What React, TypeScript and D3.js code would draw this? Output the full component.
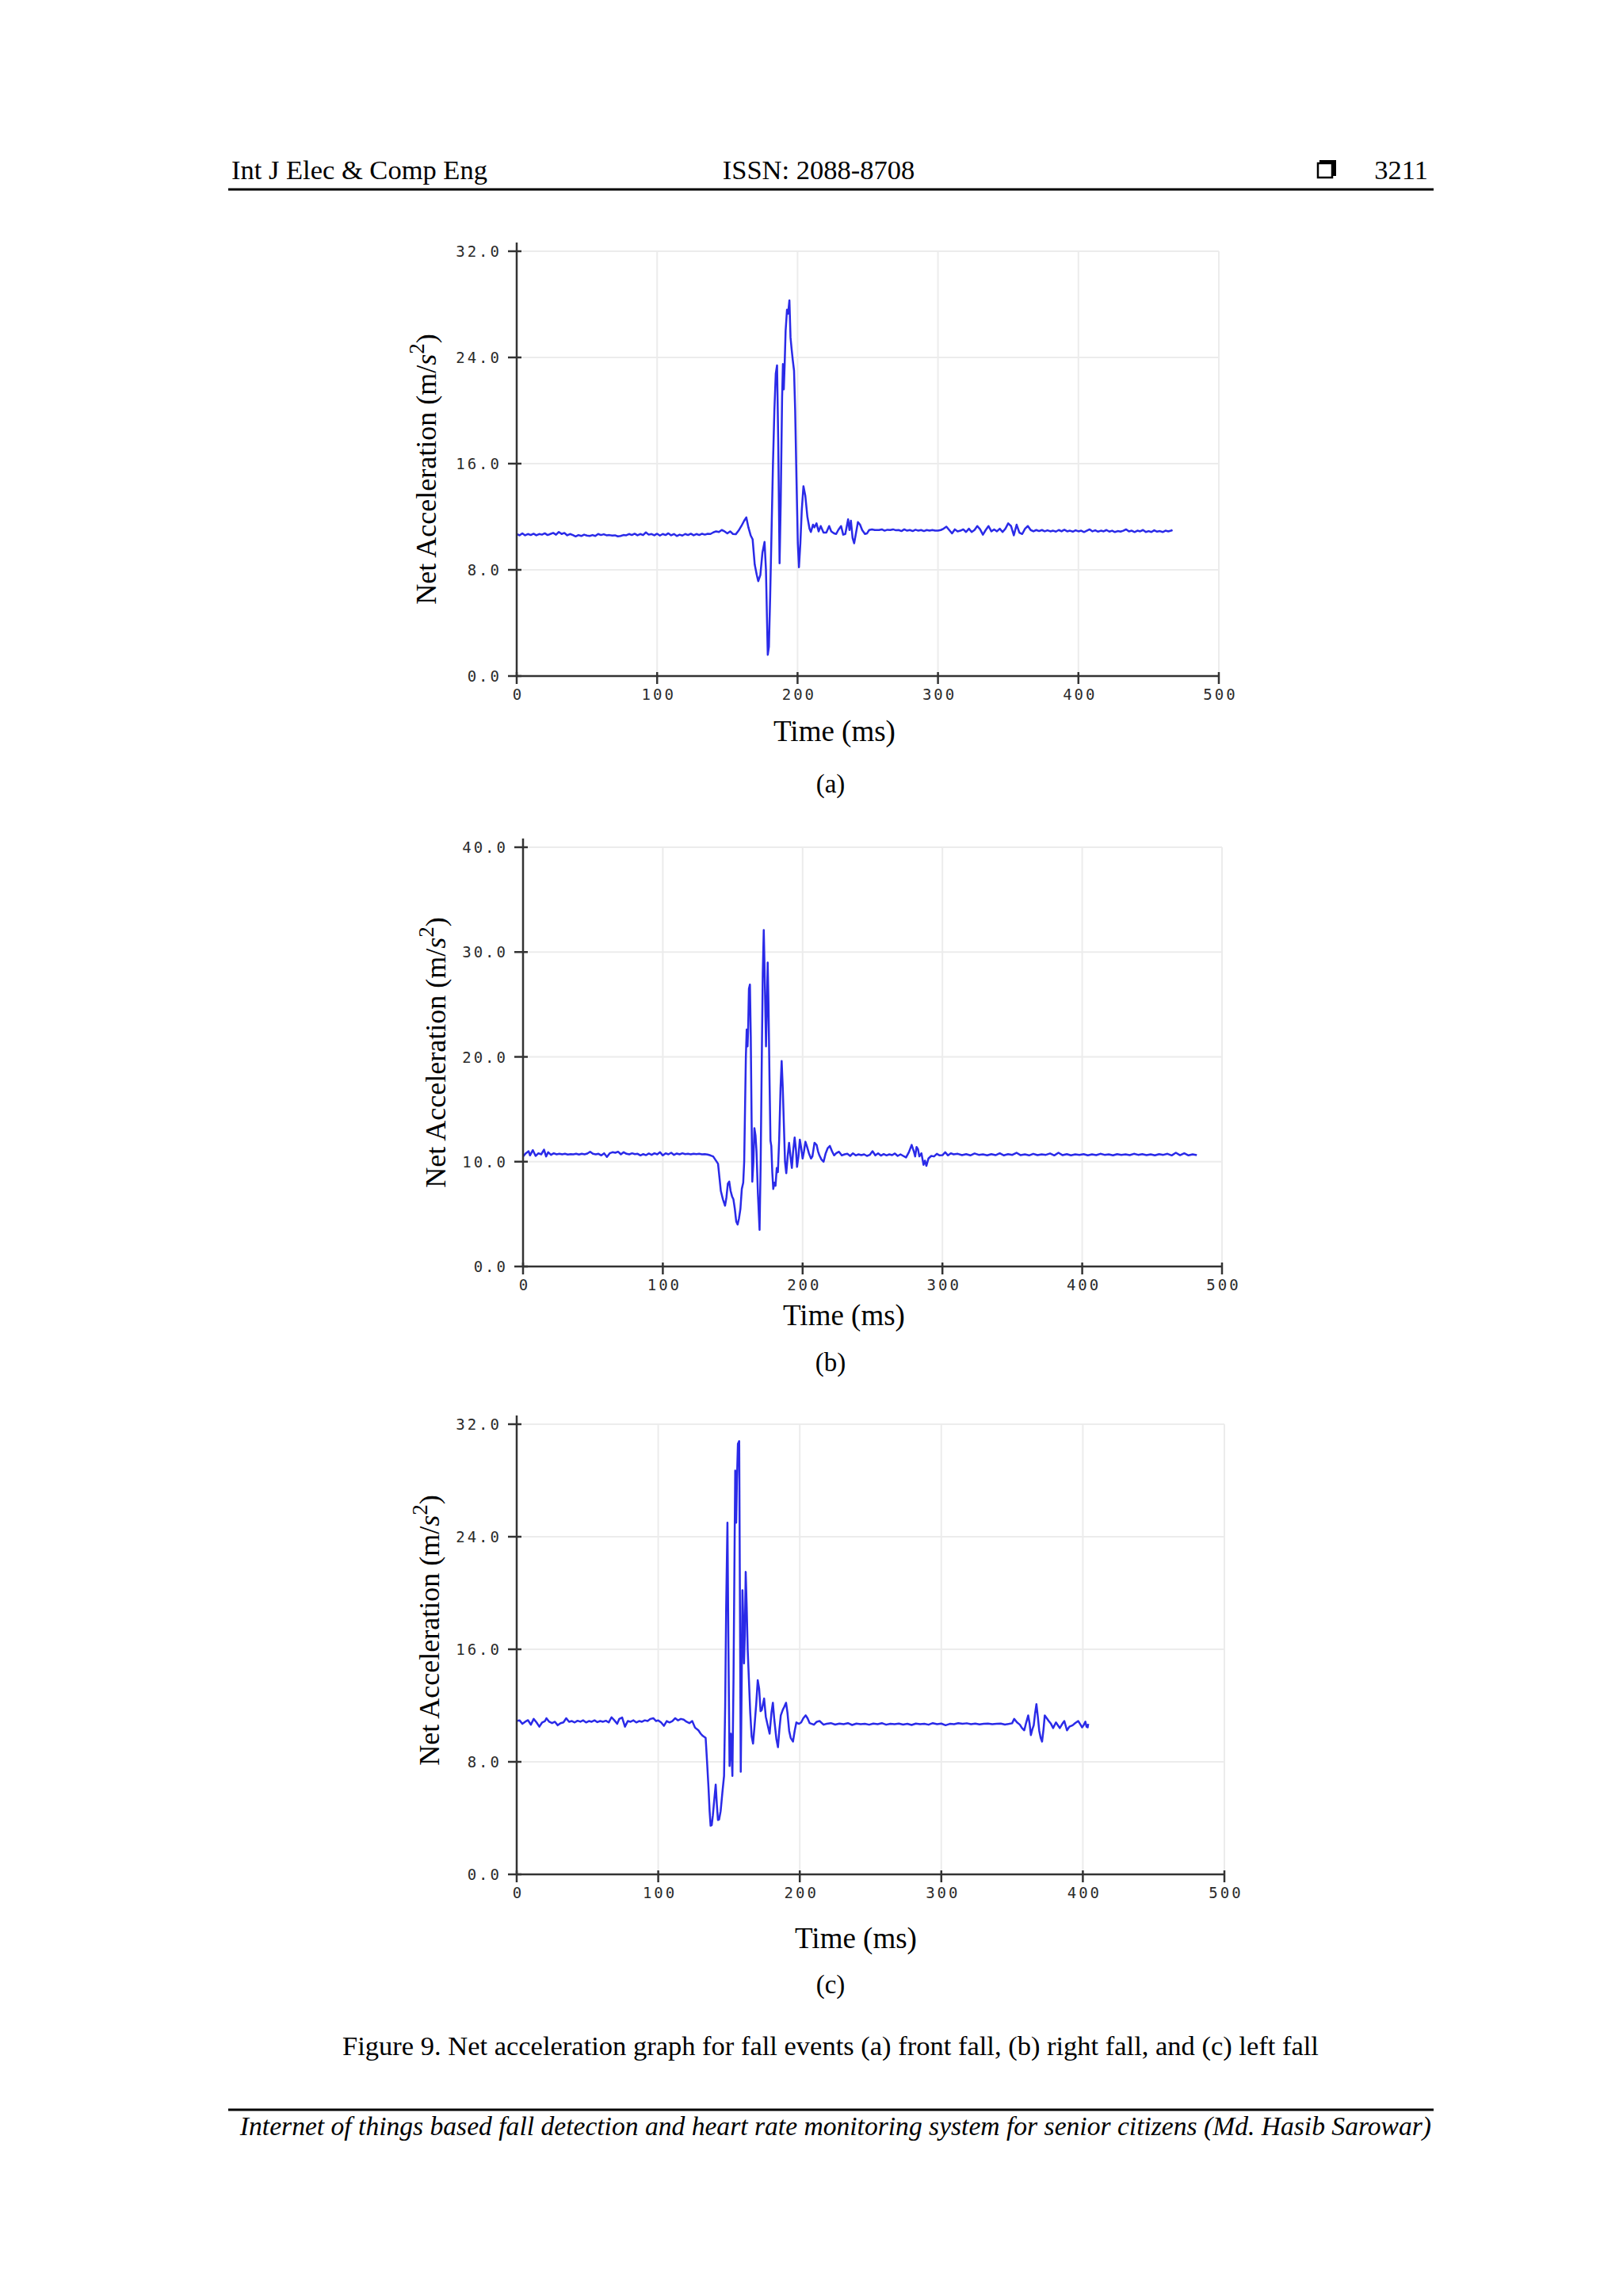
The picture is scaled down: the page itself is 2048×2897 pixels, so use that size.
import { useEffect, useRef } from "react";
import * as d3 from "d3";

// front fall (a): [time ms, net acceleration m/s^2]
const frontFall: [number, number][] = [
  [0, 10.7], [2, 10.6], [4, 10.75], [6, 10.6], [8, 10.7], [10, 10.62], [12, 10.72], [14, 10.6], [16, 10.7], [18, 10.65],
  [20, 10.75], [22, 10.62], [24, 10.7], [26, 10.78], [28, 10.65], [30, 10.85], [32, 10.7], [34, 10.78], [36, 10.6], [38, 10.7],
  [40, 10.62], [42, 10.52], [44, 10.62], [46, 10.55], [48, 10.65], [50, 10.58], [52, 10.55], [54, 10.62], [56, 10.55], [58, 10.7],
  [60, 10.62], [62, 10.68], [64, 10.6], [66, 10.62], [68, 10.58], [70, 10.6], [72, 10.52], [74, 10.55], [76, 10.62], [78, 10.6],
  [80, 10.7], [82, 10.62], [84, 10.72], [86, 10.6], [88, 10.7], [90, 10.62], [92, 10.82], [94, 10.65], [96, 10.7], [98, 10.6],
  [100, 10.72], [102, 10.58], [104, 10.7], [106, 10.62], [108, 10.75], [110, 10.6], [112, 10.7], [114, 10.55], [116, 10.65], [118, 10.58],
  [120, 10.7], [122, 10.62], [124, 10.72], [126, 10.6], [128, 10.7], [130, 10.62], [132, 10.72], [134, 10.65], [136, 10.72], [138, 10.7],
  [140, 10.82], [142, 10.9], [144, 10.85], [146, 11.0], [148, 10.9], [150, 10.75], [152, 10.9], [154, 10.7], [156, 10.68], [158, 10.95],
  [160, 11.3], [162, 11.7], [163.5, 11.95], [165, 11.2], [166.6, 10.6], [168, 10.3], [169.5, 8.4], [171, 7.6], [172, 7.15], [173.5, 7.6],
  [175, 9.3], [176.5, 10.1], [177.5, 8.0], [178.3, 4.0], [178.8, 1.6], [179.6, 2.2], [180.5, 6], [181.5, 11], [182.5, 16], [183.5, 20],
  [184.5, 22.8], [185.4, 23.4], [186.2, 18], [187.2, 8.5], [188, 13], [189, 21], [189.6, 23.5], [190.2, 21.6], [190.8, 23.4], [191.5, 26],
  [192.5, 27.6], [193.3, 27.3], [194.2, 28.3], [195, 25.5], [195.8, 24.6], [196.6, 23.8], [197.5, 23.0], [198.3, 20], [199.2, 15], [200.2, 10],
  [201, 8.2], [202, 10], [203, 12.5], [204.2, 14.3], [205.5, 13.6], [207, 12], [208.5, 11.1], [209.5, 10.85], [211, 11.4], [212, 11.2],
  [213.5, 11.5], [215, 10.9], [216.5, 11.3], [218.5, 10.8], [220.5, 10.8], [222.5, 11.3], [224, 10.9], [226, 10.75], [227.5, 10.7], [229, 11.0],
  [231, 11.3], [232.5, 10.65], [234, 10.7], [236, 11.8], [237, 11.0], [238, 11.7], [239.2, 10.4], [240.3, 10.0], [241.5, 10.7], [243, 11.6],
  [244.5, 11.4], [246, 11.0], [248, 10.7], [249.5, 10.75], [251, 11.0], [253, 11.05], [255, 11.0], [258, 11.0], [260, 11.05], [262, 10.95],
  [264, 11.02], [266, 11.0], [268, 11.05], [270, 10.98], [272, 11.0], [274, 10.92], [276, 11.05], [278, 10.95], [280, 11.0], [282, 10.92],
  [284, 11.02], [286, 10.95], [288, 11.0], [290, 10.92], [292, 11.0], [294, 10.95], [296, 11.0], [298, 10.95], [300, 10.95], [302, 11.0],
  [304, 11.1], [306, 11.25], [308, 11.0], [310, 10.75], [312, 11.05], [314, 10.9], [316, 10.95], [318, 11.05], [320, 10.85], [322, 11.1],
  [324, 10.85], [326, 11.0], [328, 11.3], [330, 11.05], [332, 10.65], [334, 11.0], [336, 11.3], [338, 10.9], [340, 11.05], [342, 10.9],
  [344, 11.1], [346, 10.85], [348, 11.1], [350, 11.5], [352, 11.3], [354, 10.6], [356, 11.4], [358, 10.8], [360, 10.7], [362, 11.1],
  [364, 11.3], [366, 11.0], [368, 10.9], [370, 11.0], [372, 10.92], [374, 11.0], [376, 10.9], [378, 10.98], [380, 10.9], [382, 10.95],
  [384, 10.88], [386, 11.0], [388, 10.9], [390, 11.02], [392, 10.9], [394, 10.95], [396, 10.88], [398, 10.98], [400, 10.9], [402, 10.95],
  [404, 10.85], [406, 10.95], [408, 11.05], [410, 10.9], [412, 10.98], [414, 10.88], [416, 10.95], [418, 10.9], [420, 11.0], [422, 10.88],
  [424, 10.95], [426, 10.85], [428, 10.92], [430, 10.88], [432, 10.95], [434, 11.05], [436, 10.9], [438, 10.95], [440, 10.85], [442, 10.95],
  [444, 10.9], [446, 11.0], [448, 10.85], [450, 10.92], [452, 10.85], [454, 10.98], [456, 10.88], [458, 10.92], [460, 10.85], [462, 10.95],
  [464, 10.9], [466, 10.95], [467, 11.0],
];

// right fall (b)
const rightFall: [number, number][] = [
  [0, 10.5], [2, 10.8], [4, 11.0], [5, 10.6], [7, 11.1], [9, 10.55], [11, 10.8], [13, 10.7], [15, 11.15], [16.5, 10.5],
  [18, 10.9], [20, 10.65], [22, 10.8], [24, 10.7], [26, 10.75], [28, 10.7], [30, 10.75], [32, 10.68], [34, 10.72], [36, 10.7],
  [38, 10.75], [40, 10.68], [42, 10.75], [44, 10.7], [46, 10.78], [48, 10.95], [50, 10.75], [52, 10.7], [54, 10.75], [56, 10.6],
  [58, 10.8], [60, 10.45], [62, 10.8], [64, 10.9], [66, 10.85], [68, 10.95], [70, 10.7], [72, 10.9], [74, 10.75], [76, 10.7],
  [78, 10.8], [80, 10.72], [82, 10.75], [84, 10.6], [86, 10.72], [88, 10.62], [90, 10.78], [92, 10.65], [94, 10.8], [96, 10.7],
  [98, 10.9], [100, 10.6], [102, 10.8], [104, 10.7], [106, 10.85], [108, 10.65], [110, 10.78], [112, 10.7], [114, 10.8], [116, 10.72],
  [118, 10.75], [120, 10.7], [122, 10.75], [124, 10.72], [126, 10.75], [128, 10.7], [130, 10.72], [132, 10.68], [134, 10.6], [136, 10.5],
  [138, 10.1], [139.5, 9.8], [140.5, 8.5], [141.5, 7.2], [143, 6.4], [144.5, 5.8], [145.5, 6.6], [146.5, 7.9], [147.5, 8.1], [148.5, 7.2],
  [149.5, 6.7], [150.5, 6.4], [151.5, 5.5], [152.5, 4.3], [153.5, 4.0], [154.5, 4.6], [155.5, 5.5], [156.5, 7.4], [157.5, 8.0], [158.2, 10],
  [158.8, 15], [159.4, 20], [160, 22.6], [160.6, 21], [161, 22.5], [161.6, 26.5], [162.3, 26.9], [162.9, 22], [163.5, 14], [164, 8.1],
  [164.8, 10], [165.5, 13.2], [166.3, 12.5], [167, 11], [168, 7], [169.2, 3.5], [170, 10], [170.8, 20], [171.5, 28], [172.2, 32.1],
  [173, 27], [173.8, 21], [174.4, 24.5], [175, 29.0], [175.6, 25], [176.3, 18], [177, 12], [177.6, 11.5], [178.3, 9], [179, 7.4],
  [179.8, 8.0], [180.6, 7.7], [181.5, 9.4], [182.3, 9.0], [183.2, 12], [184.2, 17], [185, 19.6], [185.8, 17], [186.6, 13.5], [187.4, 10],
  [188.3, 8.9], [189.3, 10.5], [190.3, 11.8], [191.3, 10.5], [192.3, 9.4], [193.2, 11], [194.3, 12.3], [195.2, 11.2], [196, 9.5], [197, 10.5],
  [198, 12.1], [199, 11.3], [200, 10.3], [201, 11.0], [202, 11.9], [203, 11.5], [204.5, 10.8], [206, 10.3], [207, 10.5], [208.5, 11.8],
  [210, 11.6], [211, 11.0], [212, 10.6], [213.5, 10.2], [215, 10.0], [216.5, 10.8], [218, 11.3], [219.5, 11.5], [221, 11.0], [222.5, 10.6],
  [224, 10.8], [226, 10.95], [228, 10.6], [230, 10.7], [232, 10.75], [234, 10.55], [236, 10.8], [238, 10.6], [240, 10.7], [242, 10.62],
  [244, 10.7], [246, 10.55], [248, 10.65], [250, 11.0], [252, 10.6], [254, 10.8], [256, 10.58], [258, 10.72], [260, 10.6], [262, 10.7],
  [264, 10.62], [266, 10.78], [268, 10.55], [270, 10.7], [272, 10.55], [274, 10.4], [276, 10.9], [278, 11.6], [279.5, 11.0], [280.5, 10.5],
  [281.5, 11.4], [282.5, 11.2], [283.5, 10.5], [285, 10.8], [286.5, 9.7], [287.5, 10.1], [288.5, 9.6], [290, 10.3], [292, 10.55], [294, 10.5],
  [296, 10.75], [298, 10.6], [300, 10.62], [302, 10.9], [304, 10.6], [306, 10.8], [308, 10.7], [311, 10.75], [314, 10.62], [317, 10.72],
  [320, 10.6], [323, 10.78], [326, 10.65], [329, 10.7], [332, 10.6], [335, 10.72], [338, 10.62], [341, 10.8], [344, 10.6], [347, 10.72],
  [350, 10.65], [353, 10.85], [356, 10.62], [359, 10.7], [362, 10.6], [365, 10.75], [368, 10.62], [371, 10.7], [374, 10.65], [377, 10.78],
  [380, 10.6], [383, 10.85], [386, 10.62], [389, 10.72], [392, 10.6], [395, 10.7], [398, 10.65], [401, 10.72], [404, 10.6], [407, 10.7],
  [410, 10.62], [413, 10.75], [416, 10.65], [419, 10.7], [422, 10.6], [425, 10.72], [428, 10.65], [431, 10.7], [434, 10.62], [437, 10.75],
  [440, 10.65], [443, 10.72], [446, 10.62], [449, 10.7], [452, 10.6], [455, 10.72], [458, 10.65], [461, 10.75], [464, 10.6], [467, 10.85],
  [470, 10.62], [473, 10.8], [476, 10.6], [479, 10.7], [482, 10.62],
];

// left fall (c)
const leftFall: [number, number][] = [
  [0, 10.9], [2, 10.95], [4, 10.7], [6, 10.85], [8, 10.96], [10, 10.64], [12, 11.05], [14, 10.8], [16, 10.5], [18, 10.8],
  [20, 10.9], [21, 11.1], [23, 10.85], [25, 10.75], [27, 10.85], [29, 10.6], [31, 10.75], [33, 10.8], [35, 11.1], [37, 10.85],
  [39, 10.9], [41, 10.8], [43, 10.92], [45, 10.85], [47, 10.95], [49, 10.8], [51, 10.9], [53, 10.85], [55, 10.95], [57, 10.82],
  [59, 10.9], [61, 10.85], [63, 10.92], [65, 10.8], [67, 11.17], [69, 10.95], [71, 10.7], [72.5, 11.05], [74.5, 11.15], [76.5, 10.5],
  [78.5, 10.9], [80.5, 10.85], [82.5, 10.95], [84.5, 10.8], [86.5, 10.9], [88.5, 10.85], [90.5, 10.95], [92.5, 10.9], [94.5, 11.05], [96.5, 11.1],
  [98.5, 10.9], [100, 10.95], [102, 10.8], [104, 10.56], [106, 10.9], [108, 10.8], [110, 10.9], [112, 11.1], [114, 10.95], [116, 11.05],
  [118, 11.0], [120, 10.85], [122, 10.75], [124, 10.9], [126, 10.43], [128.4, 10.24], [130, 10.0], [131.5, 9.84], [133.5, 9.7], [134.5, 8],
  [135.5, 6.2], [136.3, 4.5], [137, 3.46], [137.8, 3.5], [138.6, 4.2], [139.5, 5.2], [140.6, 6.38], [141.4, 5], [142.2, 3.86], [143, 3.9],
  [144.1, 4.5], [145.3, 5.8], [146.5, 7.0], [147.3, 12], [148, 19], [148.9, 25.0], [149.6, 16], [150.4, 7.7], [151.3, 10], [152.4, 7.0],
  [153.2, 14], [154, 24], [154.4, 28.7], [155.1, 25], [155.6, 28], [156.3, 30.6], [157.2, 30.8], [157.7, 20], [158.3, 7.3], [159, 14],
  [159.5, 20.2], [160.1, 18], [160.6, 15], [161.2, 17], [161.8, 21.5], [162.5, 19], [163.2, 16], [164, 14], [165, 11.5], [166, 9.8],
  [167, 9.3], [168, 10.5], [169.3, 12.2], [170.3, 13.8], [171.3, 13.2], [172.3, 11.6], [173.2, 11.7], [174.8, 12.5], [176, 11.2], [177.1, 10.7],
  [178.7, 10.0], [180, 11.5], [181, 12.2], [182, 11.0], [183.5, 9.6], [184.6, 9.04], [185.6, 10.3], [186.6, 11.3], [188, 11.7], [189, 11.9],
  [190.3, 12.2], [191.3, 11.5], [192.5, 10.2], [193.6, 9.7], [195.2, 9.44], [196.4, 10.2], [197.6, 10.8], [199.5, 10.7], [201, 10.8], [202.5, 11.1],
  [204.2, 11.3], [205.5, 11.1], [207, 10.75], [208.5, 10.7], [210, 10.64], [212, 10.85], [214, 10.9], [216.8, 10.64], [219, 10.7], [222, 10.75],
  [225, 10.65], [228, 10.72], [231, 10.68], [234, 10.75], [237, 10.62], [240, 10.72], [243, 10.68], [246, 10.7], [249, 10.64], [252, 10.72],
  [255, 10.68], [258, 10.75], [261, 10.64], [264, 10.7], [267, 10.68], [270, 10.72], [273, 10.65], [276, 10.7], [279, 10.62], [282, 10.72],
  [285, 10.68], [288, 10.7], [291, 10.64], [294, 10.75], [297, 10.68], [300, 10.72], [303, 10.6], [306, 10.7], [309, 10.68], [312, 10.75],
  [315, 10.7], [318, 10.74], [321, 10.68], [324, 10.72], [327, 10.66], [330, 10.7], [333, 10.72], [336, 10.68], [339, 10.7], [342, 10.72],
  [345, 10.65], [348, 10.7], [350, 10.74], [351.5, 11.05], [353.5, 10.8], [355.5, 10.64], [357, 10.4], [358.6, 10.24], [360, 10.8], [361.4, 11.3],
  [362.4, 10.7], [363.3, 9.9], [364.3, 10.3], [365.3, 10.6], [366.2, 11.4], [367.2, 12.1], [368.2, 11.2], [369.2, 10.2], [370.2, 9.7], [371.2, 9.44],
  [372.2, 10.3], [373.1, 11.3], [374.5, 11.1], [375.9, 10.9], [377.5, 10.7], [379, 10.4], [381, 10.8], [383.7, 10.4], [385.5, 10.7], [386.9, 10.9],
  [388.8, 10.24], [390.5, 10.5], [392.8, 10.6], [394.5, 10.75], [396.7, 10.9], [398, 10.7], [399.5, 10.45], [400.5, 10.6], [401.8, 10.85], [402.6, 10.5],
  [403.4, 10.45], [403.8, 10.7],
];

const xTicks = [0, 100, 200, 300, 400, 500];
const yTicksA = [0, 8, 16, 24, 32];
const yTicksB = [0, 10, 20, 30, 40];
const yTicksC = [0, 8, 16, 24, 32];

const panelLabels = ["(a)", "(b)", "(c)"];
const headerLeft = "Int J Elec & Comp Eng";
const headerMid = "ISSN: 2088-8708";
const pageNumber = "3211";
const caption =
  "Figure 9. Net acceleration graph for fall events (a) front fall, (b) right fall, and (c) left fall";
const footer =
  "Internet of things based fall detection and heart rate monitoring system for senior citizens (Md. Hasib Sarowar)";

const W = 2048;
const H = 2897;
const SERIF = "'Liberation Serif', 'Times New Roman', serif";
const MONO = "'DejaVu Sans Mono', 'Liberation Mono', monospace";

// placement of each panel on the page
const panels = [
  { data: frontFall, yTicks: yTicksA, x0: 652, x1: 1538, y0: 853, y1: 317, ylab: [550, 592], tlab: [1053, 935], plab: [1048, 1000] },
  { data: rightFall, yTicks: yTicksB, x0: 660, x1: 1542, y0: 1598, y1: 1069, ylab: [562, 1328], tlab: [1065, 1672], plab: [1048, 1730] },
  { data: leftFall, yTicks: yTicksC, x0: 652, x1: 1545, y0: 2365, y1: 1797, ylab: [554, 2057], tlab: [1080, 2458], plab: [1048, 2515] },
];

export default function App() {
  const svgRef = useRef<SVGSVGElement>(null);

  useEffect(() => {
    if (!svgRef.current) return;
    const svg = d3.select(svgRef.current);
    svg.selectAll("*").remove();

    svg.append("rect").attr("width", W).attr("height", H).attr("fill", "#fff");

    // page header
    const head = svg.append("g").attr("font-family", SERIF).attr("font-size", 34.5).attr("fill", "#000");
    head.append("text").attr("x", 292).attr("y", 226).text(headerLeft);
    head.append("text").attr("x", 1033).attr("y", 226).attr("text-anchor", "middle").text(headerMid);
    head.append("text").attr("x", 1802).attr("y", 226).attr("text-anchor", "end").text(pageNumber);
    head.append("rect").attr("x", 1663).attr("y", 206).attr("width", 18).attr("height", 18)
      .attr("fill", "none").attr("stroke", "#000").attr("stroke-width", 2.5);
    head.append("path").attr("d", "M1665,204 H1684 V222").attr("fill", "none").attr("stroke", "#000").attr("stroke-width", 4);
    svg.append("line").attr("x1", 288).attr("x2", 1809).attr("y1", 239).attr("y2", 239)
      .attr("stroke", "#000").attr("stroke-width", 3);

    panels.forEach((p, i) => {
      const x = d3.scaleLinear().domain([0, 500]).range([p.x0, p.x1]);
      const yMax = p.yTicks[p.yTicks.length - 1];
      const y = d3.scaleLinear().domain([0, yMax]).range([p.y0, p.y1]);
      const g = svg.append("g");

      // grid
      g.selectAll(".hg").data(p.yTicks.slice(1)).join("line")
        .attr("x1", p.x0).attr("x2", p.x1).attr("y1", (d) => y(d)).attr("y2", (d) => y(d))
        .attr("stroke", "#ececec").attr("stroke-width", 2);
      g.selectAll(".vg").data(xTicks.slice(1)).join("line")
        .attr("x1", (d) => x(d)).attr("x2", (d) => x(d)).attr("y1", p.y0).attr("y2", y(yMax))
        .attr("stroke", "#ececec").attr("stroke-width", 2);

      // series
      const line = d3.line<[number, number]>().x((d) => x(d[0])).y((d) => y(d[1]));
      g.append("path").datum(p.data).attr("d", line).attr("fill", "none")
        .attr("stroke", "#2a2ae8").attr("stroke-width", 2.5).attr("stroke-linejoin", "round");

      // axes
      const ax = g.append("g").attr("stroke", "#333").attr("stroke-width", 2.5);
      ax.append("line").attr("x1", p.x0).attr("x2", p.x0).attr("y1", p.y0).attr("y2", y(yMax) - 11);
      ax.append("line").attr("x1", p.x0).attr("x2", p.x1).attr("y1", p.y0).attr("y2", p.y0);
      ax.selectAll(".yt").data(p.yTicks).join("line")
        .attr("x1", p.x0 - 11).attr("x2", p.x0 + 6).attr("y1", (d) => y(d)).attr("y2", (d) => y(d));
      ax.selectAll(".xt").data(xTicks).join("line")
        .attr("x1", (d) => x(d)).attr("x2", (d) => x(d)).attr("y1", p.y0 - 5).attr("y2", p.y0 + 10);

      const lab = g.append("g").attr("font-family", MONO).attr("font-size", 19)
        .attr("fill", "#2b2b2b").attr("letter-spacing", 3);
      lab.selectAll(".yl").data(p.yTicks).join("text")
        .attr("x", p.x0 - 19).attr("y", (d) => y(d) + 7).attr("text-anchor", "end")
        .text((d) => d3.format(".1f")(d));
      lab.selectAll(".xl").data(xTicks).join("text")
        .attr("x", (d) => x(d) + 2).attr("y", p.y0 + 30).attr("text-anchor", "middle")
        .text((d) => String(d));

      // titles
      const yl = g.append("text").attr("font-family", SERIF).attr("font-size", 36).attr("fill", "#000")
        .attr("text-anchor", "middle")
        .attr("transform", `translate(${p.ylab[0]},${p.ylab[1]}) rotate(-90)`);
      yl.append("tspan").text("Net Acceleration (m/");
      yl.append("tspan").attr("font-style", "italic").text("s");
      yl.append("tspan").attr("font-size", 27).attr("dy", -15).text("2");
      yl.append("tspan").attr("dy", 15).text(")");

      g.append("text").attr("font-family", SERIF).attr("font-size", 37).attr("text-anchor", "middle")
        .attr("x", p.tlab[0]).attr("y", p.tlab[1]).text("Time (ms)");
      g.append("text").attr("font-family", SERIF).attr("font-size", 33).attr("text-anchor", "middle")
        .attr("x", p.plab[0]).attr("y", p.plab[1]).text(panelLabels[i]);
    });

    // caption and footer
    svg.append("text").attr("font-family", SERIF).attr("font-size", 34.5).attr("text-anchor", "middle")
      .attr("x", 1048).attr("y", 2593).text(caption);
    svg.append("line").attr("x1", 288).attr("x2", 1809).attr("y1", 2662).attr("y2", 2662)
      .attr("stroke", "#000").attr("stroke-width", 3);
    svg.append("text").attr("font-family", SERIF).attr("font-size", 33.6).attr("font-style", "italic")
      .attr("text-anchor", "end").attr("x", 1806).attr("y", 2694).text(footer);
  }, []);

  return (
    <svg
      ref={svgRef}
      width={W}
      height={H}
      style={{ position: "absolute", left: 0, top: 0, display: "block" }}
    />
  );
}
